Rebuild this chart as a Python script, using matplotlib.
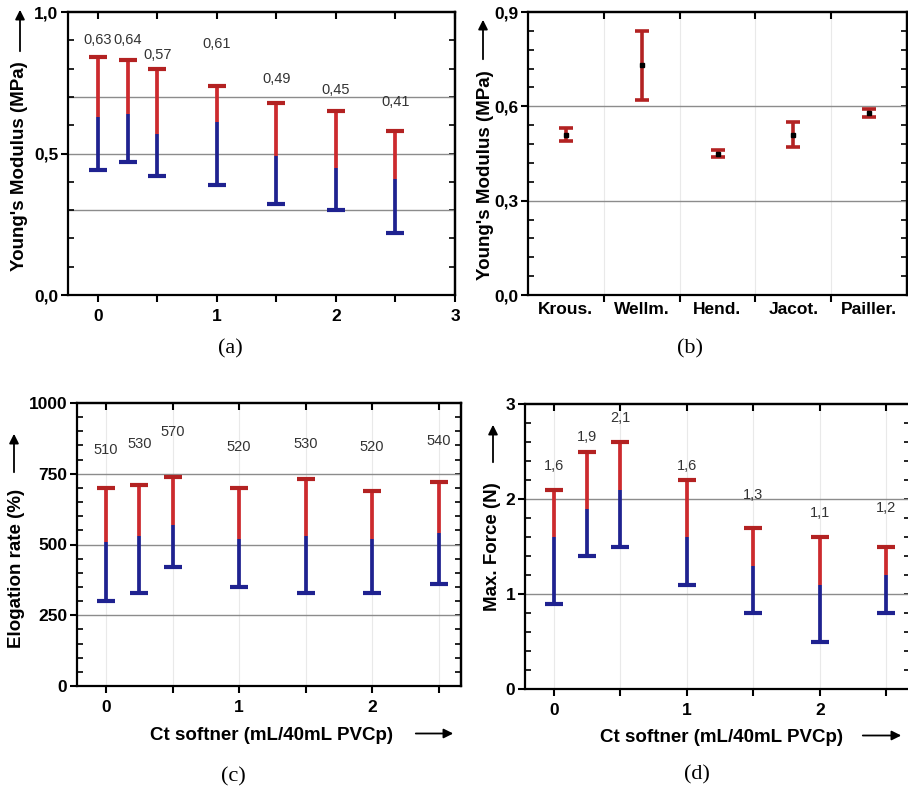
import matplotlib
matplotlib.use("Agg")
import matplotlib.pyplot as plt
from matplotlib.ticker import MultipleLocator, FixedLocator, NullFormatter

# ---------------- data ----------------
# (a) Young's modulus vs softener content
a_x = [0, 0.25, 0.5, 1, 1.5, 2, 2.5]
a_mean = [0.63, 0.64, 0.57, 0.61, 0.49, 0.45, 0.41]
a_high = [0.84, 0.83, 0.80, 0.74, 0.68, 0.65, 0.58]
a_low = [0.44, 0.47, 0.42, 0.39, 0.32, 0.30, 0.22]
a_label_y = [0.90, 0.90, 0.847, 0.888, 0.765, 0.726, 0.682]

# (b) Young's modulus reported in the literature
b_names = ["Krous.", "Wellm.", "Hend.", "Jacot.", "Pailler."]
b_mean = [0.51, 0.73, 0.45, 0.51, 0.578]
b_err = [0.02, 0.11, 0.01, 0.04, 0.012]

# (c) elongation rate vs softener content
c_x = [0, 0.25, 0.5, 1, 1.5, 2, 2.5]
c_mean = [510, 530, 570, 520, 530, 520, 540]
c_high = [700, 710, 740, 700, 730, 690, 720]
c_low = [300, 330, 420, 350, 330, 330, 360]
c_label_y = [835, 854, 898, 845, 856, 845, 866]

# (d) maximum force vs softener content
d_x = [0, 0.25, 0.5, 1, 1.5, 2, 2.5]
d_mean = [1.6, 1.9, 2.1, 1.6, 1.3, 1.1, 1.2]
d_high = [2.1, 2.5, 2.6, 2.2, 1.7, 1.6, 1.5]
d_low = [0.9, 1.4, 1.5, 1.1, 0.8, 0.5, 0.8]
d_label_y = [2.35, 2.65, 2.85, 2.35, 2.04, 1.85, 1.90]

# ---------------- style ----------------
W, H = 908, 791
SANS = "Liberation Sans"
SERIF = "Liberation Serif"
RED = "#cc2a2e"
BLUE = "#1f2290"
DARKRED = "#b32222"
GRID = "#8c8c8c"
plt.rcParams["font.family"] = [SANS, "DejaVu Sans"]

fig = plt.figure(figsize=(W / 100, H / 100), dpi=100)
fig.patch.set_facecolor("white")


def box(left, top, right, bottom):
    return [left / W, 1 - bottom / H, (right - left) / W, (bottom - top) / H]


def fpt(x, y):
    return (x / W, 1 - y / H)


def comma(v, nd):
    return f"{v:.{nd}f}".replace(".", ",")


def frame(ax, xlim, ylim, ymajor, ylabels, xmajor, xlabels, xminor, hgrid, vgrid):
    ax.set_xlim(*xlim)
    ax.set_ylim(*ylim)
    for s in ax.spines.values():
        s.set_linewidth(1.6)
    # y axis: outward major ticks, inward minor ticks
    ax.yaxis.set_major_locator(FixedLocator(ymajor))
    ax.set_yticklabels(ylabels, fontsize=12.5, fontweight="bold")
    ax.yaxis.set_minor_locator(MultipleLocator((ymajor[1] - ymajor[0]) / 5))
    ax.yaxis.set_tick_params(which="major", direction="out", length=5, width=1.5, pad=2)
    ax.yaxis.set_tick_params(which="minor", direction="in", length=4, width=1.2)
    # x axis
    ax.xaxis.set_major_locator(FixedLocator(xmajor))
    ax.set_xticklabels(xlabels, fontsize=12.5, fontweight="bold")
    ax.xaxis.set_minor_locator(FixedLocator(xminor))
    ax.xaxis.set_tick_params(which="both", direction="out", length=5, width=1.5, pad=5)
    # mirrored inward ticks on top and right
    top = ax.secondary_xaxis("top")
    top.xaxis.set_major_locator(FixedLocator(xminor))
    top.xaxis.set_major_formatter(NullFormatter())
    top.tick_params(direction="in", length=5, width=1.5)
    top.spines["top"].set_linewidth(1.6)
    right = ax.secondary_yaxis("right")
    right.yaxis.set_major_locator(MultipleLocator((ymajor[1] - ymajor[0]) / 5))
    right.yaxis.set_major_formatter(NullFormatter())
    right.tick_params(direction="in", length=4, width=1.2)
    right.spines["right"].set_linewidth(1.6)
    for v in vgrid:
        ax.axvline(v, color="#e9e9e9", lw=0.8, zorder=0)
    for h in hgrid:
        ax.axhline(h, color=GRID, lw=1.0, zorder=1)


def split_bars(ax, x, mean, high, low, labels, label_y):
    ax.vlines(x, low, mean, colors=BLUE, lw=2.7, zorder=3)
    ax.vlines(x, mean, high, colors=RED, lw=2.7, zorder=3)
    ax.plot(x, high, ls="none", marker="_", ms=13, mew=3.0, color=DARKRED, zorder=4)
    ax.plot(x, low, ls="none", marker="_", ms=13, mew=3.0, color=BLUE, zorder=4)
    for xi, t, yi in zip(x, labels, label_y):
        ax.text(xi, yi, t, ha="center", va="center", fontsize=10.5, color="#333333", zorder=5)


def ylabel(text, x, y, arrow_x, arrow_y0, arrow_y1):
    fig.text(*fpt(x, y), text, rotation=90, ha="center", va="center",
             fontsize=13.5, fontweight="bold")
    fig.add_artist(matplotlib.patches.FancyArrowPatch(
        fpt(arrow_x, arrow_y0), fpt(arrow_x, arrow_y1), transform=fig.transFigure,
        arrowstyle="-|>", mutation_scale=14, lw=1.3, color="black"))


def xlabel(text, x, y, arrow_x0, arrow_x1):
    fig.text(*fpt(x, y), text, ha="center", va="center", fontsize=13.5, fontweight="bold")
    fig.add_artist(matplotlib.patches.FancyArrowPatch(
        fpt(arrow_x0, y - 1.5), fpt(arrow_x1, y - 1.5), transform=fig.transFigure,
        arrowstyle="-|>", mutation_scale=14, lw=1.3, color="black"))


def caption(text, x, y):
    fig.text(*fpt(x, y), text, ha="center", va="center", fontsize=16, family=SERIF)


half_steps = [0, 0.5, 1, 1.5, 2, 2.5, 3]

# ---------------- (a) ----------------
ax_a = fig.add_axes(box(68, 12, 455, 295))
frame(ax_a, (-0.25, 3.0), (0, 1.0), [0, 0.5, 1.0], ["0,0", "0,5", "1,0"],
      [0, 1, 2, 3], ["0", "1", "2", "3"], half_steps, [0.3, 0.5, 0.7], [])
split_bars(ax_a, a_x, a_mean, a_high, a_low, [comma(v, 2) for v in a_mean], a_label_y)
ylabel("Young's Modulus (MPa)", 20, 166, 20, 54, 7)
caption("(a)", 230, 349)

# ---------------- (b) ----------------
b_pos = list(range(1, len(b_names) + 1))
ax_b = fig.add_axes(box(528, 12, 907, 295))
frame(ax_b, (0.5, len(b_names) + 0.5), (0, 0.9), [0, 0.3, 0.6, 0.9],
      ["0,0", "0,3", "0,6", "0,9"], b_pos, b_names,
      [p + 0.5 for p in b_pos[:-1]], [0.3, 0.6], [p + 0.5 for p in b_pos[:-1]])
ax_b.xaxis.set_tick_params(which="major", length=0)
ax_b.errorbar(b_pos, b_mean, yerr=b_err, fmt="s", ms=2.5, mfc="black", mec="black",
              ecolor=DARKRED, elinewidth=2.6, capsize=5, capthick=2.6, zorder=3)
ylabel("Young's Modulus (MPa)", 485, 175, 483, 62, 17)
caption("(b)", 690, 349)

# ---------------- (c) ----------------
ax_c = fig.add_axes(box(77, 403, 461, 686))
frame(ax_c, (-0.218, 2.669), (0, 1000), [0, 250, 500, 750, 1000],
      ["0", "250", "500", "750", "1000"], [0, 1, 2], ["0", "1", "2"],
      half_steps[:-1], [250, 500, 750], half_steps[:-1])
split_bars(ax_c, c_x, c_mean, c_high, c_low, [str(v) for v in c_mean], c_label_y)
ylabel("Elogation rate (%)", 17, 568, 14, 475, 431)
xlabel("Ct softner (mL/40mL PVCp)", 272, 735, 413, 456)
caption("(c)", 233, 777)

# ---------------- (d) ----------------
ax_d = fig.add_axes(box(525, 404, 910, 689))
frame(ax_d, (-0.218, 2.677), (0, 3), [0, 1, 2, 3], ["0", "1", "2", "3"],
      [0, 1, 2], ["0", "1", "2"], half_steps[:-1], [1, 2], half_steps[:-1])
split_bars(ax_d, d_x, d_mean, d_high, d_low, [comma(v, 1) for v in d_mean], d_label_y)
ylabel("Max. Force (N)", 493, 547, 493, 465, 422)
xlabel("Ct softner (mL/40mL PVCp)", 721, 737, 860, 904)
caption("(d)", 697, 775)

fig.savefig("out.png", dpi=100, facecolor="white")
